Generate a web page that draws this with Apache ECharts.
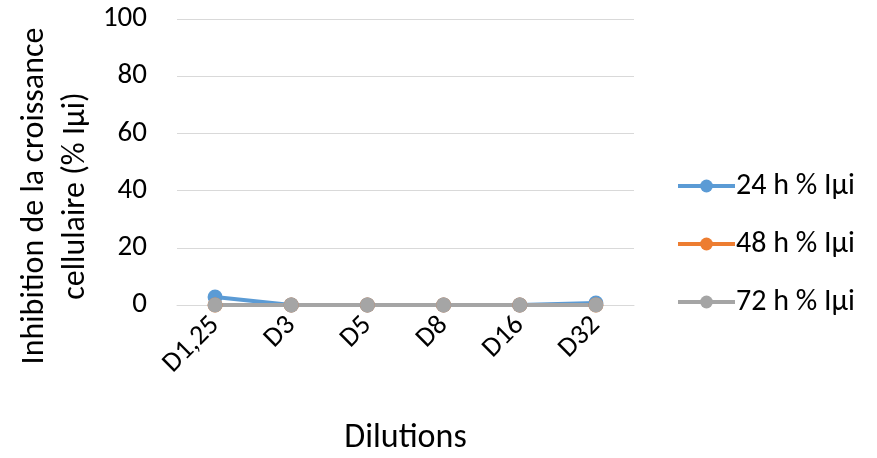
<!DOCTYPE html>
<html>
<head>
<meta charset="utf-8">
<script src="https://cdn.jsdelivr.net/npm/echarts@6/dist/echarts.min.js"></script>
<style>
html,body{margin:0;padding:0;background:#fff;}
#chart{width:877px;height:458px;}
</style>
</head>
<body>
<div id="chart"></div>
<script>
var categories = ['D1,25', 'D3', 'D5', 'D8', 'D16', 'D32'];
var seriesNames = ['24 h % Iµi', '48 h % Iµi', '72 h % Iµi'];
var values24 = [2.8, 0, 0, 0, 0, 0.7];
var values48 = [0, 0, 0, 0, 0, 0];
var values72 = [0, 0, 0, 0, 0, 0];
var yTicks = [0, 20, 40, 60, 80, 100];
var colors = ['#5B9BD5', '#ED7D31', '#A5A5A5'];
var FONT = 'Carlito, Lato, sans-serif';

var chart = echarts.init(document.getElementById('chart'), null, {renderer: 'canvas'});
var allValues = [values24, values48, values72];
var series = seriesNames.map(function (n, i) {
  return {
    name: n,
    type: 'line',
    data: allValues[i],
    symbol: 'circle',
    symbolSize: 15,
    color: colors[i],
    lineStyle: {width: 4, color: colors[i]},
    itemStyle: {color: colors[i]},
    emphasis: {disabled: true},
    animation: false
  };
});

chart.setOption({
  animation: false,
  grid: {left: 177, right: 243, top: 19, bottom: 153, containLabel: false, outerBoundsMode: 'none'},
  legend: {
    orient: 'vertical',
    left: 671,
    top: 166,
    itemWidth: 57,
    itemHeight: 16,
    itemGap: 28,
    lineStyle: {width: 4},
    textStyle: {fontFamily: FONT, fontSize: 30, color: '#000', padding: [0, 0, 0, -4]},
    data: seriesNames
  },
  xAxis: {
    type: 'category',
    data: categories,
    boundaryGap: true,
    axisLine: {lineStyle: {color: '#D9D9D9', width: 1}},
    axisTick: {show: false},
    axisLabel: {rotate: 45, fontFamily: FONT, fontSize: 28, color: '#000', margin: 16, interval: 0},
    name: 'Dilutions',
    nameLocation: 'middle',
    nameGap: 116,
    nameTextStyle: {fontFamily: FONT, fontSize: 34, color: '#000'}
  },
  yAxis: {
    type: 'value',
    min: yTicks[0],
    max: yTicks[yTicks.length - 1],
    interval: yTicks[1] - yTicks[0],
    axisLine: {show: false},
    axisTick: {show: false},
    splitLine: {lineStyle: {color: '#D9D9D9', width: 1}},
    axisLabel: {fontFamily: FONT, fontSize: 29, color: '#000', margin: 30}
  },
  graphic: [{
    type: 'text',
    x: 55,
    y: 196,
    rotation: Math.PI / 2,
    style: {
      text: 'Inhibition de la croissance\ncellulaire (% Iµi)',
      font: '32px ' + FONT,
      fill: '#000',
      align: 'center',
      verticalAlign: 'middle',
      lineHeight: 41
    }
  }],
  series: series
});
</script>
</body>
</html>
